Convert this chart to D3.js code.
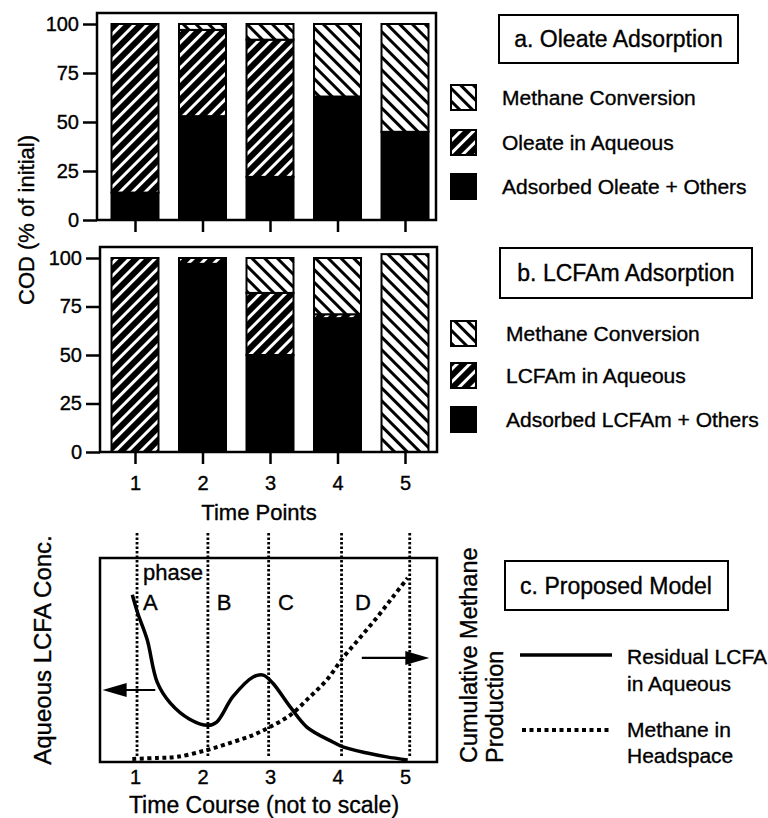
<!DOCTYPE html>
<html>
<head>
<meta charset="utf-8">
<script src="https://cdn.jsdelivr.net/npm/d3@7"></script>
<style>
  body { margin: 0; background: #fff; }
  text { font-family: "Liberation Sans", Arial, sans-serif; fill: #000; stroke: #000; stroke-width: 0.35px; }
</style>
</head>
<body>
<svg id="chart"></svg>
<script>
// bar panels (COD, % of initial)
const timePoints = [1, 2, 3, 4, 5];
const yTicks = [0, 25, 50, 75, 100];

const oleateAdsorbed = [14, 53, 22, 63, 45];
const oleateAqueous = [86, 44, 70, 0, 0];
const oleateMethane = [0, 3, 8, 37, 55];

const lcfamAdsorbed = [0, 97, 50, 69, 0];
const lcfamAqueous = [100, 3, 32, 2, 0];
const lcfamMethane = [0, 0, 18, 29, 102];

const legendA = ["Methane Conversion", "Oleate in Aqueous", "Adsorbed Oleate + Others"];
const legendB = ["Methane Conversion", "LCFAm in Aqueous", "Adsorbed LCFAm + Others"];

// proposed model (arbitrary units)
const residualT = [0.96, 1.04, 1.18, 1.33, 1.52, 1.81, 2.08, 2.21, 2.45, 2.75, 2.9, 3.04, 3.3, 3.55, 3.93, 4.08, 4.44, 4.73, 5.04];
const residualC = [82, 73, 60, 39, 29, 21, 18, 19.6, 32, 41.7, 42.6, 38.7, 27, 17, 9.8, 7.4, 4.4, 2.5, 1];
const methaneT = [0.96, 1.33, 1.62, 2.07, 2.45, 2.75, 3.0, 3.3, 3.59, 3.84, 4.08, 4.33, 4.59, 4.82, 5.04];
const methaneC = [1.5, 2, 2.5, 5.9, 9.8, 13.2, 17.2, 23, 31.9, 40.2, 51, 60.8, 71.1, 80.9, 90.2];
const phaseLines = [1.03, 2.08, 2.98, 4.06, 5.07];
const phaseNames = ["A", "B", "C", "D"];
const phaseNameT = [1.12, 2.21, 3.12, 4.26];

const svg = d3.select("#chart").attr("width", 768).attr("height", 818);
const defs = svg.append("defs");

// hatch fills
function hatch(id, bg, fg, angle) {
  const p = defs.append("pattern")
    .attr("id", id)
    .attr("patternUnits", "userSpaceOnUse")
    .attr("width", 9)
    .attr("height", 9)
    .attr("patternTransform", `rotate(${angle})`);
  p.append("rect").attr("width", 9).attr("height", 9).attr("fill", bg);
  p.append("line").attr("x1", 4.5).attr("x2", 4.5).attr("y1", 0).attr("y2", 9)
    .attr("stroke", fg).attr("stroke-width", 3);
}
hatch("methane", "#fff", "#000", -45);
hatch("aqueous", "#000", "#fff", 45);

const fills = { adsorbed: "#000", aqueous: "url(#aqueous)", methane: "url(#methane)" };

const x = d3.scaleLinear().domain([1, 5]).range([135, 405]);
const barWidth = 47;

function styleAxis(a, size) {
  a.select(".domain").remove();
  a.selectAll("line").attr("stroke-width", 2.5);
  a.selectAll("text").style("font-size", size + "px").attr("fill", "#000")
    .style("font-family", '"Liberation Sans", Arial, sans-serif');
}

function barPanel(frame, y0, y100, adsorbed, aqueous, methane, showLabels) {
  const y = d3.scaleLinear().domain([0, 100]).range([y0, y100]);
  const rows = timePoints.map((t, i) => ({
    t: t, adsorbed: adsorbed[i], aqueous: aqueous[i], methane: methane[i]
  }));
  const series = d3.stack().keys(["adsorbed", "aqueous", "methane"])(rows);

  const g = svg.append("g");
  series.forEach((s) => {
    g.selectAll(null)
      .data(s.filter((d) => d[1] > d[0]))
      .enter()
      .append("rect")
      .attr("x", (d) => x(d.data.t) - barWidth / 2)
      .attr("y", (d) => y(d[1]))
      .attr("width", barWidth)
      .attr("height", (d) => y(d[0]) - y(d[1]))
      .attr("fill", fills[s.key])
      .attr("stroke", "#000")
      .attr("stroke-width", 2);
  });

  g.append("rect")
    .attr("x", frame[0]).attr("y", frame[1])
    .attr("width", frame[2] - frame[0]).attr("height", y0 - frame[1])
    .attr("fill", "none").attr("stroke", "#000").attr("stroke-width", 2.5);

  const yAxis = g.append("g")
    .attr("transform", `translate(${frame[0]},0)`)
    .call(d3.axisLeft(y).tickValues(yTicks).tickSize(14).tickPadding(4));
  const xAxis = g.append("g")
    .attr("transform", `translate(0,${y0})`)
    .call(d3.axisBottom(x).tickValues(timePoints).tickSize(12).tickPadding(12)
      .tickFormat(showLabels ? d3.format("d") : () => ""));
  styleAxis(yAxis, 20);
  styleAxis(xAxis, 20);
}

barPanel([97, 13, 436], 220, 24, oleateAdsorbed, oleateAqueous, oleateMethane, false);
barPanel([100, 247, 437], 452, 258, lcfamAdsorbed, lcfamAqueous, lcfamMethane, true);

function legendPanel(title, box, labels, rowY, textX) {
  const g = svg.append("g");
  g.append("rect")
    .attr("x", box[0]).attr("y", box[1]).attr("width", box[2]).attr("height", box[3])
    .attr("fill", "#fff").attr("stroke", "#000").attr("stroke-width", 2);
  g.append("text")
    .attr("x", box[0] + box[2] / 2).attr("y", box[1] + box[3] / 2 + 8)
    .attr("text-anchor", "middle").style("font-size", "23px").text(title);
  const keys = ["methane", "aqueous", "adsorbed"];
  labels.forEach((lab, i) => {
    g.append("rect")
      .attr("x", 451).attr("y", rowY[i] - 13).attr("width", 25).attr("height", 25)
      .attr("fill", fills[keys[i]]).attr("stroke", "#000").attr("stroke-width", 2);
    g.append("text")
      .attr("x", textX).attr("y", rowY[i] + 7)
      .style("font-size", "21px").text(lab);
  });
}
legendPanel("a. Oleate Adsorption", [499, 15, 239, 48], legendA, [98, 143, 187], 502);
legendPanel("b. LCFAm Adsorption", [500, 248, 252, 50], legendB, [334, 376, 420], 506);

// y title for bars
svg.append("text")
  .attr("transform", "translate(34,220) rotate(-90)")
  .attr("text-anchor", "middle")
  .style("font-size", "22px")
  .text("COD (% of initial)");

svg.append("text")
  .attr("x", 259).attr("y", 520)
  .attr("text-anchor", "middle")
  .style("font-size", "22px")
  .text("Time Points");

// panel c
const xc = d3.scaleLinear().domain([1, 5]).range([135, 405]);
const yc = d3.scaleLinear().domain([0, 100]).range([762, 558]);

const gc = svg.append("g");
gc.selectAll(".phase")
  .data(phaseLines)
  .enter()
  .append("line")
  .attr("x1", (d) => xc(d)).attr("x2", (d) => xc(d))
  .attr("y1", 533).attr("y2", 757)
  .attr("stroke", "#000").attr("stroke-width", 2.8).attr("stroke-dasharray", "2.5,2");

gc.append("rect")
  .attr("x", 100).attr("y", 558).attr("width", 337).attr("height", 204)
  .attr("fill", "none").attr("stroke", "#000").attr("stroke-width", 2.5);

const lineGen = d3.line()
  .x((d) => xc(d[0]))
  .y((d) => yc(d[1]))
  .curve(d3.curveCatmullRom.alpha(0.5));

gc.append("path")
  .datum(residualT.map((t, i) => [t, residualC[i]]))
  .attr("d", lineGen)
  .attr("fill", "none").attr("stroke", "#000").attr("stroke-width", 3.5);

gc.append("path")
  .datum(methaneT.map((t, i) => [t, methaneC[i]]))
  .attr("d", lineGen)
  .attr("fill", "none").attr("stroke", "#000").attr("stroke-width", 4)
  .attr("stroke-dasharray", "4,3.5");

gc.append("text").attr("x", xc(phaseNameT[0])).attr("y", 580)
  .style("font-size", "22px").text("phase");
gc.selectAll(".phaseName")
  .data(phaseNames)
  .enter()
  .append("text")
  .attr("x", (d, i) => xc(phaseNameT[i]))
  .attr("y", 610)
  .style("font-size", "22px")
  .text((d) => d);

// arrows pointing to the axis each curve belongs to
function arrow(t0, t1, v) {
  const ax0 = xc(t0), ax1 = xc(t1), ay = yc(v);
  const dir = Math.sign(ax1 - ax0);
  gc.append("line")
    .attr("x1", ax0).attr("x2", ax1 - dir * 14).attr("y1", ay).attr("y2", ay)
    .attr("stroke", "#000").attr("stroke-width", 2.2);
  gc.append("path")
    .attr("d", `M${ax1},${ay} L${ax1 - dir * 24},${ay - 7} L${ax1 - dir * 24},${ay + 7} Z`)
    .attr("fill", "#000");
}
arrow(1.3, 0.52, 35.3);
arrow(4.36, 5.36, 51);

const xcAxis = gc.append("g")
  .attr("transform", "translate(0,762)")
  .call(d3.axisBottom(xc).tickValues(timePoints).tickSize(0).tickPadding(8).tickFormat(d3.format("d")));
styleAxis(xcAxis, 20);

svg.append("text")
  .attr("x", 264).attr("y", 813)
  .attr("text-anchor", "middle")
  .style("font-size", "23px")
  .text("Time Course (not to scale)");

svg.append("text")
  .attr("transform", "translate(51,650) rotate(-90)")
  .attr("text-anchor", "middle")
  .style("font-size", "24px")
  .text("Aqueous LCFA Conc.");

svg.append("text")
  .attr("transform", "translate(477,763) rotate(-90)")
  .style("font-size", "23.5px")
  .text("Cumulative Methane");
svg.append("text")
  .attr("transform", "translate(503,763) rotate(-90)")
  .style("font-size", "23.5px")
  .text("Production");

// legend c
const gl = svg.append("g");
gl.append("rect")
  .attr("x", 505).attr("y", 561).attr("width", 223).attr("height", 49)
  .attr("fill", "#fff").attr("stroke", "#000").attr("stroke-width", 2);
gl.append("text").attr("x", 616).attr("y", 594).attr("text-anchor", "middle")
  .style("font-size", "23px").text("c. Proposed Model");
gl.append("line").attr("x1", 520).attr("x2", 612).attr("y1", 655).attr("y2", 655)
  .attr("stroke", "#000").attr("stroke-width", 3.5);
gl.append("line").attr("x1", 522).attr("x2", 612).attr("y1", 730).attr("y2", 730)
  .attr("stroke", "#000").attr("stroke-width", 4).attr("stroke-dasharray", "4,3.5");
[["Residual LCFA", 664], ["in Aqueous", 691], ["Methane in", 737], ["Headspace", 763]].forEach((r) => {
  gl.append("text").attr("x", 627).attr("y", r[1]).style("font-size", "21px").text(r[0]);
});
</script>
</body>
</html>
